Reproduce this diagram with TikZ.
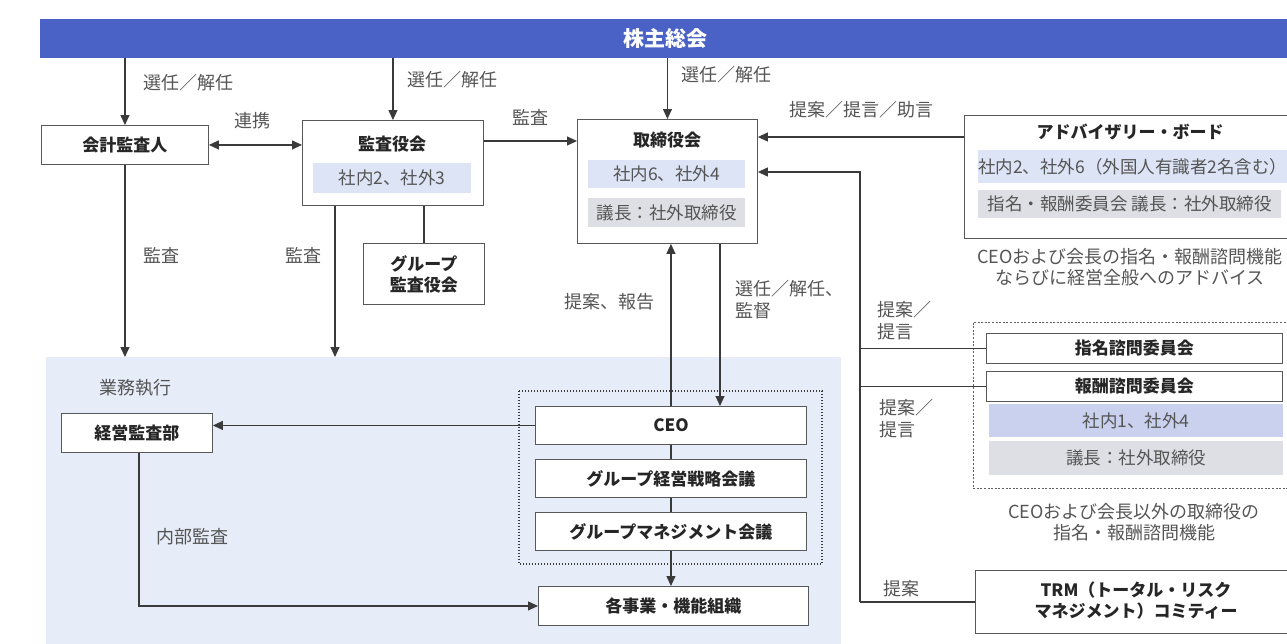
\documentclass[tikz,border=0pt]{standalone}
\usepackage{fontspec}
\setmainfont{Noto Sans CJK JP}
\usetikzlibrary{arrows.meta}
\definecolor{barblue}{HTML}{4A61C6}
\definecolor{regionblue}{HTML}{E6ECF8}
\definecolor{bandblue}{HTML}{DCE4F6}
\definecolor{bandgray}{HTML}{DDDFE4}
\definecolor{bandbluetwo}{HTML}{C9D1EE}
\definecolor{linecol}{HTML}{3A3A3A}
\definecolor{labelcol}{HTML}{555555}
\newcommand\placebox[7]{\node[#1, minimum width={#4-#2}, minimum height={#5-#3}, anchor=north west] (#6) at (#2,#3) {#7};}
\begin{document}
\begin{tikzpicture}[x=1pt,y=-1pt,
  box/.style={draw=linecol!85, line width=0.9pt, fill=white, inner sep=0pt, font=\fontsize{17}{21}\selectfont\bfseries, text=black!85, align=center},
  band/.style={inner sep=0pt, font=\fontsize{17.5}{21}\selectfont, text=labelcol},
  ttl/.style={inner sep=0pt, font=\fontsize{17}{21}\selectfont\bfseries, text=black!85, align=center},
  lbl/.style={font=\fontsize{18}{22}\selectfont, text=labelcol, inner sep=0pt, align=left, anchor=west},
  captext/.style={font=\fontsize{18}{21}\selectfont, text=labelcol, inner sep=0pt, align=center},
  conn/.style={draw=linecol, line width=1.1pt},
  arr/.style={conn, -{Triangle[length=10pt,width=9pt]}},
  dblarr/.style={conn, {Triangle[length=10pt,width=9pt]}-{Triangle[length=10pt,width=9pt]}},
]
\useasboundingbox (0,0) rectangle (1287,643);
\fill[white] (0,0) rectangle (1287,643);

% execution region
\placebox{fill=regionblue, inner sep=0pt}{46}{357}{841}{650}{region}{}
\node[lbl] (gyomu) at (99,388) {業務執行};

% top bar
\placebox{fill=barblue, inner sep=0pt, text=white, font=\fontsize{21}{24}\selectfont\bfseries}{40}{19}{1290}{58}{gm}{株主総会}

% audit side
\placebox{box}{41}{125}{208}{164}{kaikei}{会計監査人}
\placebox{box}{302}{120}{483}{205}{kansa}{}
\node[ttl] (kansatitle) at (392,144) {監査役会};
\placebox{band, fill=bandblue}{313}{163}{471}{193}{kansaband}{社内2、社外3}
\placebox{box}{363}{243}{484}{304}{gkansa}{グループ\\監査役会}

% board
\placebox{box}{577}{119}{757}{243}{tori}{}
\node[ttl] (torititle) at (667,140) {取締役会};
\placebox{band, fill=bandblue}{588}{160}{745}{188}{toriband}{社内6、社外4}
\placebox{band, fill=bandgray}{588}{198}{745}{227}{torichair}{議長：社外取締役}

% advisory board
\placebox{box}{964}{115}{1300}{238}{adv}{}
\node[ttl] (advtitle) at (1130,132) {アドバイザリー・ボード};
\placebox{band, fill=bandblue}{978}{150}{1281}{183}{advband}{社内2、社外6（外国人有識者2名含む）}
\placebox{band, fill=bandgray}{978}{190}{1281}{218}{advchair}{指名・報酬委員会 議長：社外取締役}
\node[captext] (advcap) at (1130,267) {CEOおよび会長の指名・報酬諮問機能\\ならびに経営全般へのアドバイス};

% committees
\draw[linecol!80, line width=0.9pt, dash pattern=on 2pt off 1.6pt] (1300,322) -- (973,322) -- (973,488) -- (1300,488);
\coordinate (commbox) at (973,322);
\placebox{box}{986}{333}{1282}{363}{shimei}{指名諮問委員会}
\placebox{box}{986}{371}{1282}{401}{houshu}{報酬諮問委員会}
\placebox{band, fill=bandbluetwo}{989}{404}{1283}{437}{commband}{社内1、社外4}
\placebox{band, fill=bandgray}{989}{441}{1283}{475}{commchair}{議長：社外取締役}
\node[captext] (commcap) at (1134,522) {CEOおよび会長以外の取締役の\\指名・報酬諮問機能};

% TRM
\placebox{box}{975}{570}{1300}{633}{trm}{}
\node[ttl] (trmtext) at (1136,601) {TRM（トータル・リスク\\マネジメント）コミティー};

% executive
\draw[linecol, line width=1.6pt, dash pattern=on 1.4pt off 1.6pt] (519,391) rectangle (822,564);
\placebox{box}{61}{413}{212}{452}{keiei}{経営監査部}
\placebox{box}{535}{406}{806}{444}{ceo}{CEO}
\placebox{box}{535}{459}{806}{497}{senryaku}{グループ経営戦略会議}
\placebox{box}{535}{512}{806}{550}{mgmt}{グループマネジメント会議}
\placebox{box}{538}{586}{808}{625}{jigyo}{各事業・機能組織}

% coordinates
\coordinate (ka) at (0,141);
\coordinate (kd) at (335,0);
\coordinate (a1) at (0,137);
\coordinate (vx) at (860,172);
\coordinate (dx) at (720,0);
\coordinate (kx) at (139,0);

% connectors
\draw[arr] (gm.south -| kaikei.north) -- (kaikei.north);
\draw[arr] (gm.south -| kansa.north) -- (kansa.north);
\draw[arr] (gm.south -| tori.north) -- (tori.north);
\draw[dblarr] (kaikei.east) -- (kaikei.east -| kansa.west);
\draw[arr] (kansa.east |- ka) -- (tori.west |- ka);
\draw[conn] (kansa.south -| gkansa.north) -- (gkansa.north);
\draw[arr] (kaikei.south) -- (kaikei.south |- region.north);
\draw[arr] (kansa.south -| kd) -- (region.north -| kd);
\draw[arr] (adv.west |- a1) -- (tori.east |- a1);
\draw[arr] (trm.west -| vx) -- (vx) -- (tori.east |- vx);
\draw[conn] (vx |- shimei.west) -- (shimei.west);
\draw[conn] (vx |- houshu.west) -- (houshu.west);
\draw[conn] (vx |- trm.west) -- (trm.west);
\draw[arr] (tori.south -| dx) -- (ceo.north -| dx);
\draw[arr] (ceo.north) -- (tori.south -| ceo.north);
\draw[conn] (ceo.south) -- (senryaku.north);
\draw[conn] (senryaku.south) -- (mgmt.north);
\draw[arr] (mgmt.south) -- (jigyo.north -| mgmt.south);
\draw[arr] (ceo.west) -- (keiei.east |- ceo.west);
\draw[arr] (keiei.south -| kx) |- (jigyo.west);

% labels
\node[lbl] (l1) at (143,83) {選任／解任};
\node[lbl] (l2) at (407,80) {選任／解任};
\node[lbl] (l3) at (681,75) {選任／解任};
\node[lbl] (l4) at (234,121) {連携};
\node[lbl] (l5) at (512,117) {監査};
\node[lbl] (l6) at (789,110) {提案／提言／助言};
\node[lbl] (l7) at (143,255) {監査};
\node[lbl] (l8) at (285,255) {監査};
\node[lbl] (l9) at (564,302) {提案、報告};
\node[lbl] (l10) at (735,300) {選任／解任、\\監督};
\node[lbl] (l11) at (877,321) {提案／\\提言};
\node[lbl] (l12) at (879,419) {提案／\\提言};
\node[lbl] (l13) at (883,589) {提案};
\node[lbl] (l14) at (156,537) {内部監査};
\end{tikzpicture}
\end{document}
